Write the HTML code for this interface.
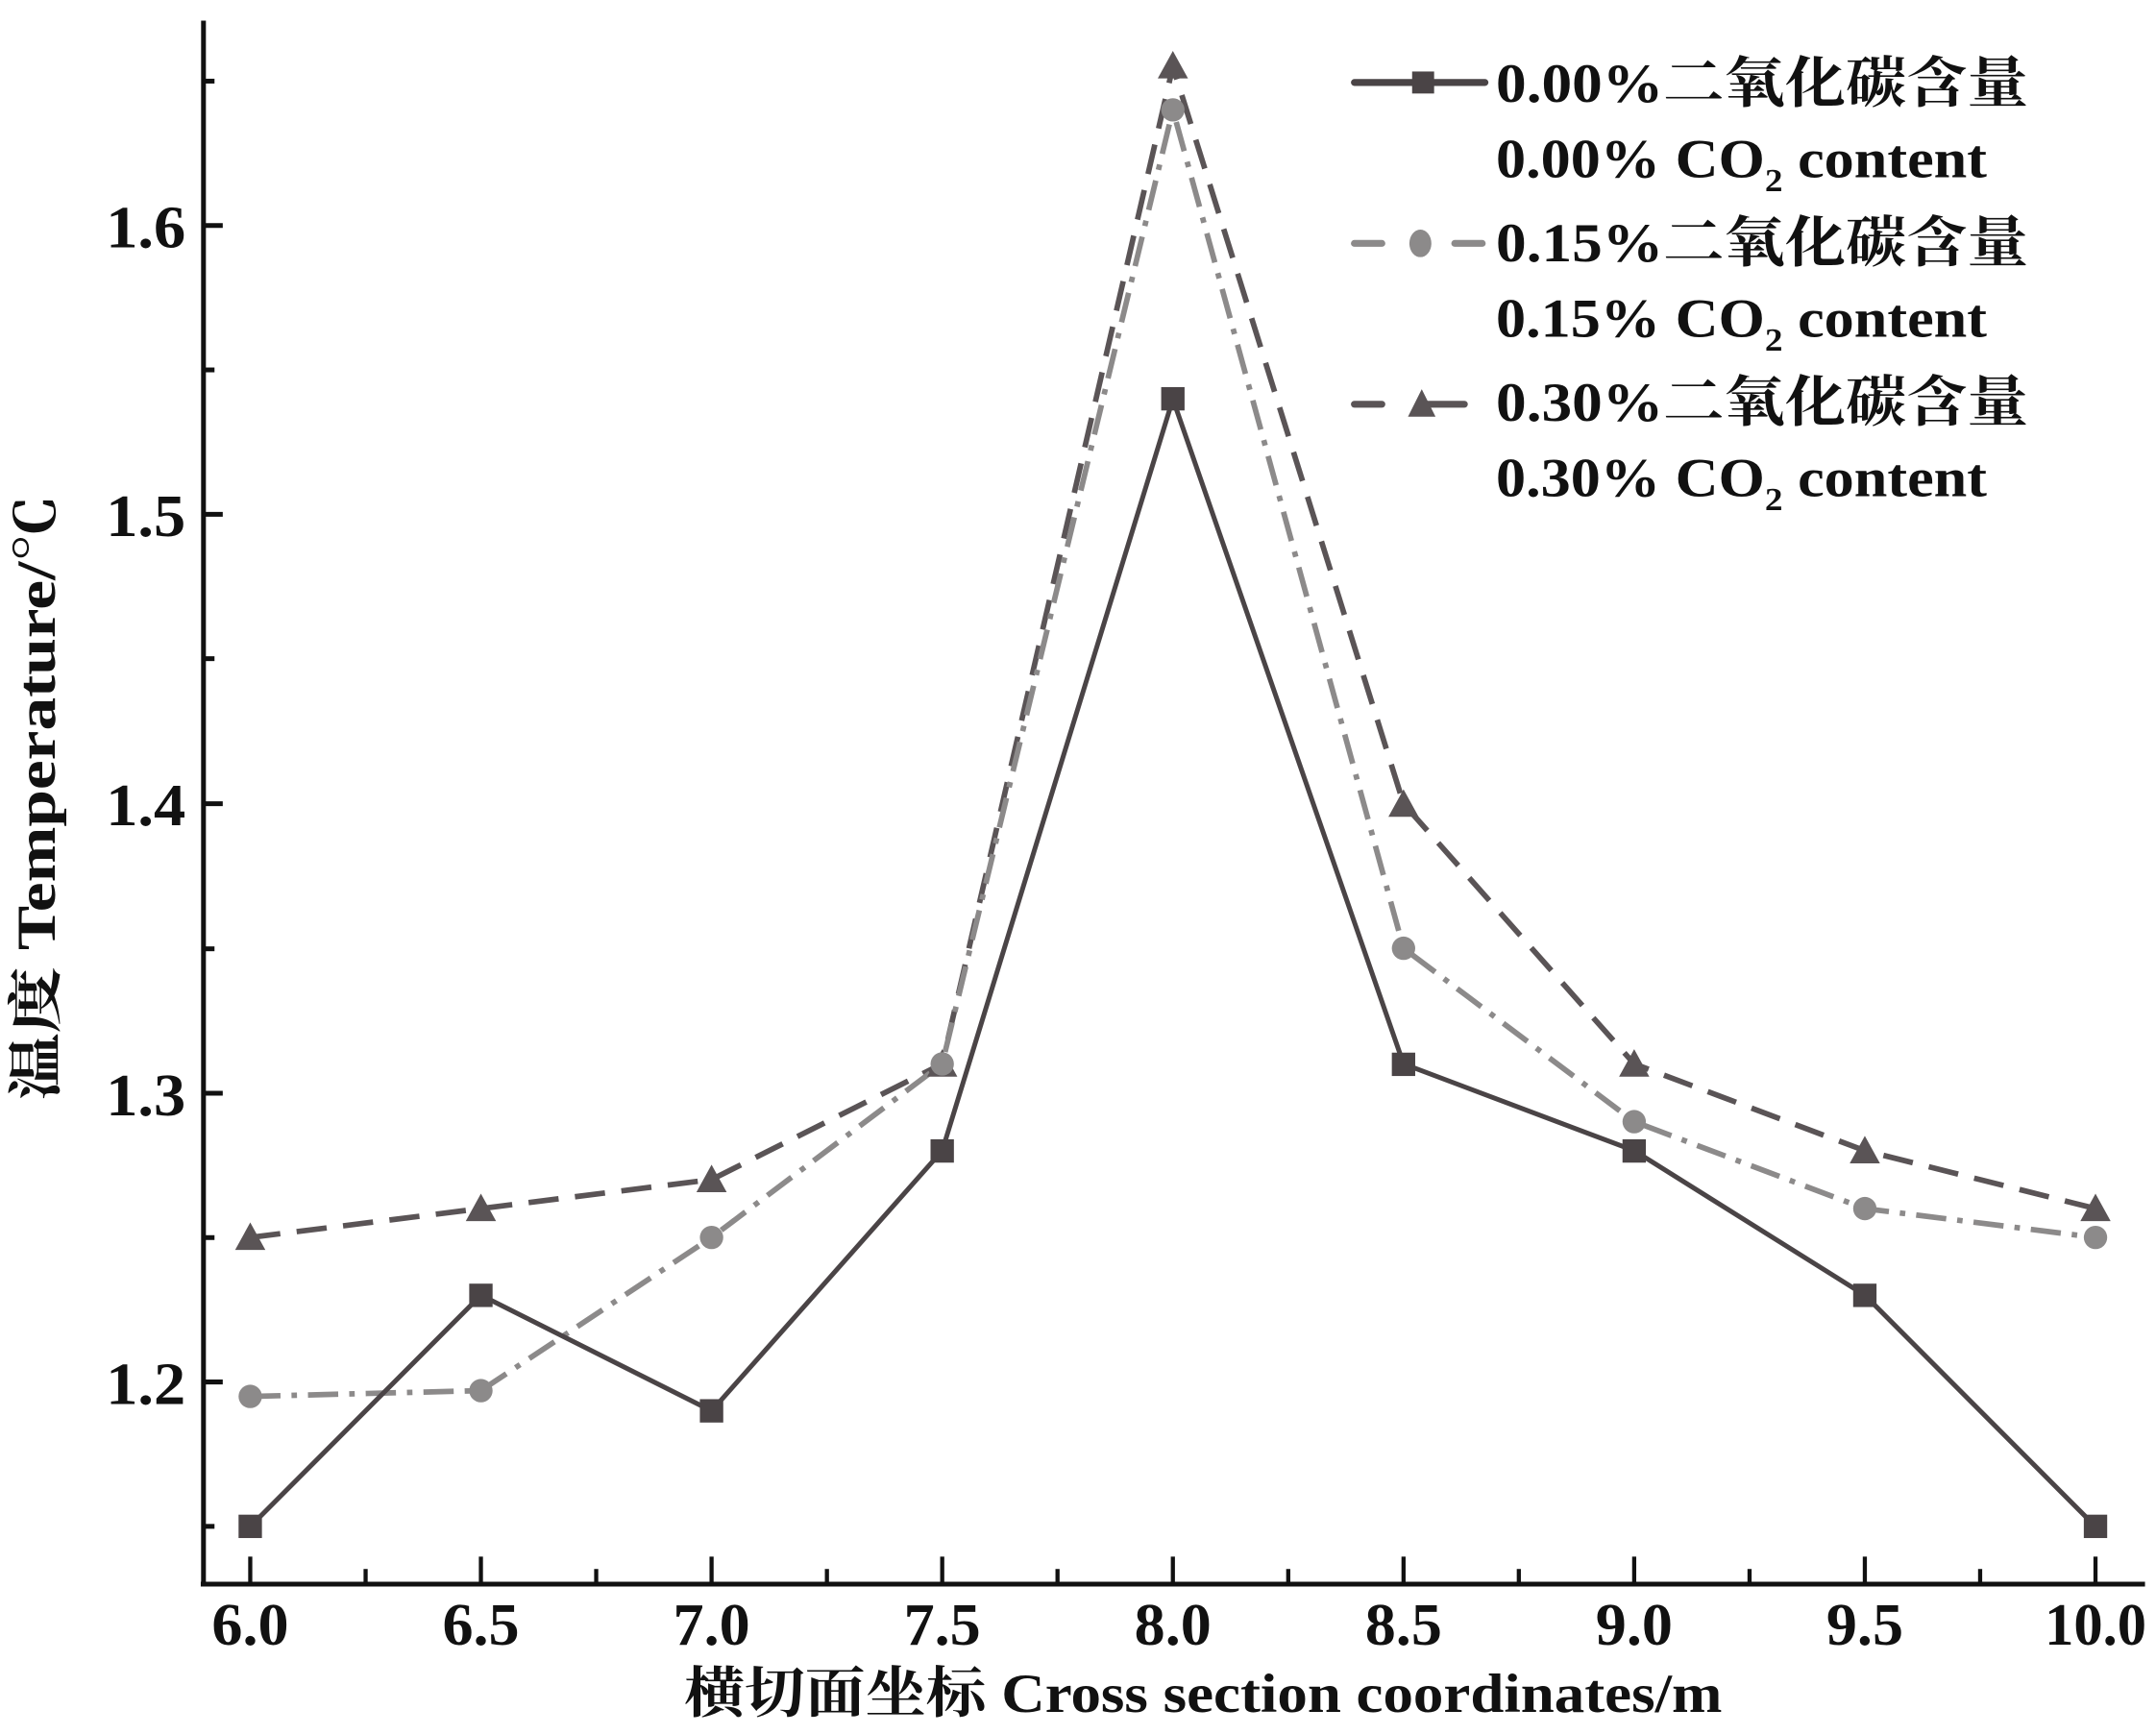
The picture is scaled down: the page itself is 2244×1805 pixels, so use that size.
<!DOCTYPE html>
<html><head><meta charset="utf-8"><style>html,body{margin:0;padding:0;background:#fff}svg{display:block}</style></head>
<body>
<svg width="2244" height="1805" viewBox="0 0 1568 1261" preserveAspectRatio="none" xmlns="http://www.w3.org/2000/svg" font-family="'Liberation Serif','Noto Serif CJK SC',serif" font-weight="bold">
<g stroke="#111" stroke-width="3.5" fill="none">
<line x1="148" y1="15" x2="148" y2="1153"/>
<line x1="146" y1="1152" x2="1560" y2="1152"/>
<line x1="148" y1="1005" x2="162" y2="1005"/><line x1="148" y1="795" x2="162" y2="795"/><line x1="148" y1="584.5" x2="162" y2="584.5"/><line x1="148" y1="374" x2="162" y2="374"/><line x1="148" y1="164" x2="162" y2="164"/>
<line x1="148" y1="1110" x2="156" y2="1110"/><line x1="148" y1="900" x2="156" y2="900"/><line x1="148" y1="690" x2="156" y2="690"/><line x1="148" y1="479" x2="156" y2="479"/><line x1="148" y1="269" x2="156" y2="269"/><line x1="148" y1="59" x2="156" y2="59"/>
<g stroke-width="3">
<line x1="182" y1="1152" x2="182" y2="1132"/><line x1="349.75" y1="1152" x2="349.75" y2="1132"/><line x1="517.5" y1="1152" x2="517.5" y2="1132"/><line x1="685.25" y1="1152" x2="685.25" y2="1132"/><line x1="853" y1="1152" x2="853" y2="1132"/><line x1="1020.75" y1="1152" x2="1020.75" y2="1132"/><line x1="1188.5" y1="1152" x2="1188.5" y2="1132"/><line x1="1356.25" y1="1152" x2="1356.25" y2="1132"/><line x1="1524" y1="1152" x2="1524" y2="1132"/>
<line x1="265.9" y1="1152" x2="265.9" y2="1141"/><line x1="433.6" y1="1152" x2="433.6" y2="1141"/><line x1="601.4" y1="1152" x2="601.4" y2="1141"/><line x1="769.1" y1="1152" x2="769.1" y2="1141"/><line x1="936.9" y1="1152" x2="936.9" y2="1141"/><line x1="1104.6" y1="1152" x2="1104.6" y2="1141"/><line x1="1272.4" y1="1152" x2="1272.4" y2="1141"/><line x1="1440.1" y1="1152" x2="1440.1" y2="1141"/>
</g>
</g>
<g font-size="44" fill="#111" text-anchor="end">
<text x="135" y="1021" textLength="58" lengthAdjust="spacingAndGlyphs">1.2</text><text x="135" y="811" textLength="58" lengthAdjust="spacingAndGlyphs">1.3</text><text x="135" y="600" textLength="58" lengthAdjust="spacingAndGlyphs">1.4</text><text x="135" y="390" textLength="58" lengthAdjust="spacingAndGlyphs">1.5</text><text x="135" y="180" textLength="58" lengthAdjust="spacingAndGlyphs">1.6</text>
</g>
<g font-size="44" fill="#111" text-anchor="middle">
<text x="182" y="1196" textLength="56" lengthAdjust="spacingAndGlyphs">6.0</text><text x="349.75" y="1196" textLength="56" lengthAdjust="spacingAndGlyphs">6.5</text><text x="517.5" y="1196" textLength="56" lengthAdjust="spacingAndGlyphs">7.0</text><text x="685.25" y="1196" textLength="56" lengthAdjust="spacingAndGlyphs">7.5</text><text x="853" y="1196" textLength="56" lengthAdjust="spacingAndGlyphs">8.0</text><text x="1020.75" y="1196" textLength="56" lengthAdjust="spacingAndGlyphs">8.5</text><text x="1188.5" y="1196" textLength="56" lengthAdjust="spacingAndGlyphs">9.0</text><text x="1356.25" y="1196" textLength="56" lengthAdjust="spacingAndGlyphs">9.5</text><text x="1524" y="1196" textLength="74" lengthAdjust="spacingAndGlyphs">10.0</text>
</g>
<text x="875" y="1245" font-size="40" text-anchor="middle" fill="#111" textLength="755" lengthAdjust="spacingAndGlyphs">横切面坐标 Cross section coordinates/m</text>
<text transform="translate(40,580) rotate(-90)" font-size="40" text-anchor="middle" fill="#111" textLength="440" lengthAdjust="spacingAndGlyphs">温度 Temperature/℃</text>
<polyline fill="none" stroke="#5a5456" stroke-width="4" stroke-dasharray="22,12" points="182,899.9 349.75,878.9 517.5,857.8 685.25,773.7 853,48.4 1020.75,584.5 1188.5,773.7 1356.25,836.8 1524,878.9"/>
<polyline fill="none" stroke="#8c8a8a" stroke-width="4" stroke-dasharray="22,8,4,8" points="182,1015.5 349.75,1011.3 517.5,899.9 685.25,773.7 853,79.9 1020.75,689.6 1188.5,815.7 1356.25,878.9 1524,899.9"/>
<polyline fill="none" stroke="#4a4446" stroke-width="3.5" points="182,1110.1 349.75,941.9 517.5,1026 685.25,836.8 853,290.2 1020.75,773.7 1188.5,836.8 1356.25,941.9 1524,1110.1"/>
<g fill="#5a5456">
<polygon points="182,889 171,909 193,909"/><polygon points="349.75,868 338.75,888 360.75,888"/><polygon points="517.5,847 506.5,867 528.5,867"/><polygon points="685.25,763 674.25,783 696.25,783"/><polygon points="853,37 842,57 864,57"/><polygon points="1020.75,574 1009.75,594 1031.75,594"/><polygon points="1188.5,763 1177.5,783 1199.5,783"/><polygon points="1356.25,826 1345.25,846 1367.25,846"/><polygon points="1524,868 1513,888 1535,888"/>
</g>
<g fill="#8c8a8a">
<circle cx="182" cy="1015.5" r="8.5"/><circle cx="349.75" cy="1011.3" r="8.5"/><circle cx="517.5" cy="899.9" r="8.5"/><circle cx="685.25" cy="773.7" r="8.5"/><circle cx="853" cy="79.9" r="8.5"/><circle cx="1020.75" cy="689.6" r="8.5"/><circle cx="1188.5" cy="815.7" r="8.5"/><circle cx="1356.25" cy="878.9" r="8.5"/><circle cx="1524" cy="899.9" r="8.5"/>
</g>
<g fill="#4a4446">
<rect x="173.5" y="1101.5" width="17" height="17"/><rect x="341.25" y="933.5" width="17" height="17"/><rect x="509" y="1017.5" width="17" height="17"/><rect x="676.75" y="828.5" width="17" height="17"/><rect x="844.5" y="281.5" width="17" height="17"/><rect x="1012.25" y="765.5" width="17" height="17"/><rect x="1180" y="828.5" width="17" height="17"/><rect x="1347.75" y="933.5" width="17" height="17"/><rect x="1515.5" y="1101.5" width="17" height="17"/>
</g>
<line x1="985" y1="60" x2="1080" y2="60" stroke="#4a4446" stroke-width="5" stroke-linecap="round"/>
<rect x="1027" y="52" width="16" height="16" fill="#4a4446"/>
<line x1="985" y1="177" x2="1005" y2="177" stroke="#8c8a8a" stroke-width="5" stroke-linecap="round"/>
<line x1="1058" y1="177" x2="1078" y2="177" stroke="#8c8a8a" stroke-width="5" stroke-linecap="round"/>
<ellipse cx="1033" cy="177" rx="8" ry="10" fill="#8c8a8a"/>
<line x1="985" y1="294" x2="1005" y2="294" stroke="#5a5456" stroke-width="5" stroke-linecap="round"/>
<line x1="1038" y1="294" x2="1065" y2="294" stroke="#5a5456" stroke-width="5" stroke-linecap="round"/>
<polygon points="1034,283 1024,303 1044,303" fill="#5a5456"/>
<g font-size="40" fill="#111">
<text x="1088" y="74" textLength="387" lengthAdjust="spacingAndGlyphs">0.00%二氧化碳含量</text>
<text x="1088" y="129" textLength="357" lengthAdjust="spacingAndGlyphs">0.00% CO<tspan font-size="24" dy="10">2</tspan><tspan dy="-10"> content</tspan></text>
<text x="1088" y="190" textLength="387" lengthAdjust="spacingAndGlyphs">0.15%二氧化碳含量</text>
<text x="1088" y="245" textLength="357" lengthAdjust="spacingAndGlyphs">0.15% CO<tspan font-size="24" dy="10">2</tspan><tspan dy="-10"> content</tspan></text>
<text x="1088" y="306" textLength="387" lengthAdjust="spacingAndGlyphs">0.30%二氧化碳含量</text>
<text x="1088" y="361" textLength="357" lengthAdjust="spacingAndGlyphs">0.30% CO<tspan font-size="24" dy="10">2</tspan><tspan dy="-10"> content</tspan></text>
</g>
</svg>
</body></html>
